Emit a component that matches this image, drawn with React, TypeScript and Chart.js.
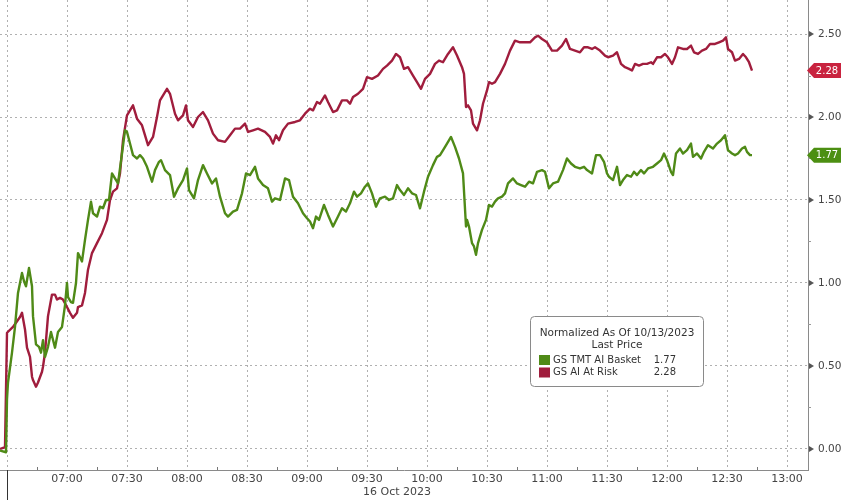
import React, { useEffect, useRef } from "react";
import { Chart, registerables } from "chart.js";

Chart.register(...registerables);

// ---------- data (minutes after 06:00, values normalized) ----------
const sessionDate = "16 Oct 2023";
const legendTitle = "Normalized As Of 10/13/2023";
const legendSubtitle = "Last Price";
const seriesNames = ["GS TMT AI Basket", "GS AI At Risk"];
const lastValues = [1.77, 2.28];
const sessionOpen = "06:30";
const xTickLabels = ["07:00", "07:30", "08:00", "08:30", "09:00", "09:30", "10:00", "10:30", "11:00", "11:30", "12:00", "12:30", "13:00"];
const yTickValues = [0, 0.5, 1, 1.5, 2, 2.5];

const basketMinutes = [
  26.5, 29.5, 30, 30.5, 32.5, 34, 35.5, 37.5, 38.5, 39.5, 41, 42.5, 43, 44.5, 46, 47, 48, 49, 50.5, 52,
  54, 55.5, 57.5, 59, 60, 60.5, 62, 63, 64.5, 65.5, 67.5, 69, 70.5, 72, 73, 75, 76.5, 78, 79.5, 81,
  82.5, 84, 85.5, 87.5, 89, 90, 91.5, 93, 95, 96.5, 98, 100, 102.5, 104, 106, 107, 109, 111.5, 113.5, 115.5,
  118, 120, 121, 123.5, 125.5, 128, 130, 132.5, 134.5, 136.5, 139, 140.5, 143, 145, 147.5, 149.5, 151.5, 154, 155.5, 158,
  160.5, 162.5, 164, 166.5, 169, 171, 173, 175.5, 178, 180, 181.5, 183, 184.5, 186, 188.5, 190.5, 193, 195.5, 197.5, 199.5,
  201.5, 203.5, 205, 207, 209, 210.5, 212.5, 214.5, 216.5, 219, 221, 223, 225, 226.5, 228.5, 230.5, 232.5, 234.5, 236.5, 238.5,
  240.5, 243, 245, 246.5, 248.5, 250, 252, 253, 254, 256, 258, 259.5, 260, 261, 262.5, 263.5, 264.5, 265.5, 267.5, 269.5,
  271, 272.5, 274, 275.5, 277.5, 279, 280.5, 283, 285, 287, 289, 291, 293, 295, 297.5, 299, 301, 303, 305.5, 308,
  310, 312, 314, 316.5, 318.5, 320, 322.5, 324.5, 326.5, 328.5, 330, 331, 333, 335, 336.5, 338, 340, 342, 343.5, 345,
  347, 348.5, 350.5, 353, 355, 357, 358.5, 360, 362, 363, 364.5, 366.5, 368, 370, 372, 373, 375, 377, 378.5, 380.5,
  383, 385, 387, 389, 390.5, 392.5, 394, 395.5, 397.5, 399, 400, 401.5, 402.5,
];
const basketValues = [
  -0.01, -0.02, 0.3, 0.4, 0.58, 0.735, 0.94, 1.06, 1.01, 0.98, 1.09, 0.98, 0.8, 0.63, 0.615, 0.58, 0.655, 0.555, 0.615, 0.705,
  0.61, 0.705, 0.735, 0.865, 1.0, 0.915, 0.885, 0.88, 1.0, 1.18, 1.13, 1.26, 1.38, 1.49, 1.42, 1.4, 1.46, 1.45, 1.5, 1.5,
  1.66, 1.63, 1.6, 1.78, 1.92, 1.91, 1.84, 1.77, 1.75, 1.77, 1.75, 1.7, 1.61, 1.68, 1.73, 1.74, 1.68, 1.65, 1.52, 1.57,
  1.62, 1.69, 1.56, 1.51, 1.62, 1.71, 1.66, 1.6, 1.63, 1.52, 1.42, 1.4, 1.43, 1.44, 1.54, 1.66, 1.65, 1.7, 1.63, 1.59,
  1.57, 1.49, 1.51, 1.5, 1.63, 1.62, 1.52, 1.48, 1.42, 1.39, 1.37, 1.33, 1.4, 1.38, 1.47, 1.41, 1.34, 1.4, 1.45, 1.43,
  1.48, 1.55, 1.52, 1.54, 1.58, 1.6, 1.54, 1.46, 1.51, 1.52, 1.5, 1.51, 1.59, 1.56, 1.53, 1.57, 1.54, 1.53, 1.45, 1.55,
  1.64, 1.71, 1.76, 1.77, 1.81, 1.84, 1.88, 1.85, 1.82, 1.75, 1.66, 1.34, 1.38, 1.34, 1.24, 1.22, 1.17, 1.24, 1.32, 1.38,
  1.47, 1.46, 1.49, 1.51, 1.52, 1.54, 1.6, 1.63, 1.6, 1.59, 1.58, 1.61, 1.6, 1.67, 1.68, 1.67, 1.57, 1.6, 1.61, 1.68,
  1.75, 1.72, 1.7, 1.69, 1.7, 1.68, 1.66, 1.77, 1.77, 1.73, 1.66, 1.64, 1.62, 1.7, 1.59, 1.62, 1.65, 1.64, 1.67, 1.65,
  1.68, 1.66, 1.69, 1.7, 1.72, 1.74, 1.78, 1.74, 1.67, 1.65, 1.78, 1.81, 1.78, 1.8, 1.84, 1.76, 1.78, 1.75, 1.79, 1.83,
  1.81, 1.84, 1.86, 1.89, 1.8, 1.78, 1.77, 1.78, 1.81, 1.82, 1.79, 1.77, 1.77,
];

const riskMinutes = [
  26.5, 29, 30, 33, 36.5, 37.5, 39, 40, 41.5, 42.5, 43, 44.5, 45.5, 47.5, 48, 49, 50.5, 52.5, 54, 55,
  56.5, 58, 60, 61.5, 63, 65, 65.5, 67.5, 69, 70.5, 72.5, 75, 77.5, 80, 81.5, 83, 85, 86.5, 88, 90,
  91.5, 93, 95, 97.5, 100.5, 103, 105, 106.5, 110, 111.5, 114, 115.5, 118, 119.5, 120.5, 123, 125.5, 128, 130.5, 133,
  135.5, 139, 141.5, 144, 146.5, 149, 150.5, 153, 155.5, 159, 161.5, 163, 164.5, 166, 168, 170.5, 174, 176.5, 179, 181.5,
  183, 185, 186.5, 189, 190.5, 193, 195, 197.5, 200, 201.5, 203, 205.5, 208, 210, 212.5, 215.5, 218, 220, 222.5, 224.5,
  226.5, 228.5, 230.5, 233, 235, 237, 239, 241.5, 244, 246, 248, 250.5, 253, 255, 257.5, 258.5, 259.5, 260.5, 262, 263,
  265, 266.5, 268, 270, 271, 272.5, 274, 276.5, 279, 281.5, 284, 286.5, 289, 291.5, 294, 295.5, 297.5, 300, 302.5, 305,
  307.5, 309.5, 311.5, 314, 316.5, 318.5, 320.5, 322.5, 324, 326.5, 329, 330.5, 333, 335, 337, 339, 341, 342.5, 344, 346,
  348, 350, 352, 353, 355, 357, 359, 360.5, 362.5, 364, 365.5, 368, 370, 372, 373.5, 375.5, 377.5, 379.5, 381.5, 384,
  386, 388, 389.5, 390.5, 392.5, 394, 396, 398, 399.5, 401, 402.5,
];
const riskValues = [
  0.0, 0.01, 0.7, 0.735, 0.795, 0.82, 0.72, 0.61, 0.555, 0.435, 0.415, 0.375, 0.4, 0.465, 0.495, 0.58, 0.8, 0.93, 0.93, 0.9,
  0.91, 0.9, 0.855, 0.82, 0.79, 0.82, 0.855, 0.865, 0.94, 1.08, 1.18, 1.24, 1.3, 1.38, 1.5, 1.55, 1.57, 1.66, 1.86, 2.01,
  2.04, 2.07, 1.99, 1.95, 1.83, 1.88, 2.0, 2.1, 2.17, 2.14, 2.02, 1.98, 2.01, 2.07, 1.98, 1.94, 2.0, 2.03, 1.98, 1.9,
  1.86, 1.85, 1.89, 1.93, 1.93, 1.96, 1.91, 1.92, 1.93, 1.91, 1.88, 1.84, 1.89, 1.86, 1.92, 1.96, 1.97, 1.98, 2.02, 2.05,
  2.04, 2.09, 2.08, 2.13, 2.09, 2.03, 2.04, 2.1, 2.1, 2.08, 2.12, 2.14, 2.17, 2.24, 2.23, 2.25, 2.29, 2.31, 2.34, 2.38,
  2.36, 2.29, 2.3, 2.25, 2.21, 2.17, 2.23, 2.26, 2.32, 2.34, 2.33, 2.38, 2.42, 2.37, 2.3, 2.26, 2.06, 2.07, 2.04, 1.96,
  1.92, 1.98, 2.08, 2.16, 2.21, 2.2, 2.21, 2.26, 2.32, 2.4, 2.46, 2.45, 2.45, 2.45, 2.48, 2.49, 2.47, 2.45, 2.4, 2.4,
  2.43, 2.47, 2.41, 2.4, 2.39, 2.42, 2.42, 2.41, 2.42, 2.4, 2.37, 2.36, 2.37, 2.39, 2.32, 2.3, 2.29, 2.28, 2.32, 2.31,
  2.32, 2.32, 2.33, 2.32, 2.36, 2.36, 2.38, 2.36, 2.32, 2.36, 2.42, 2.41, 2.41, 2.43, 2.39, 2.38, 2.4, 2.41, 2.44, 2.44,
  2.45, 2.46, 2.48, 2.41, 2.39, 2.34, 2.35, 2.38, 2.36, 2.33, 2.28,
];

// ---------- helpers ----------
const BASE = 360; // 06:00 in minutes after midnight
const parseClock = (s: string) => {
  const [h, m] = s.split(":").map(Number);
  return h * 60 + m;
};
const fmtClock = (v: number) => {
  const h = Math.floor(v / 60);
  const m = Math.round(v - h * 60);
  return `${String(h).padStart(2, "0")}:${String(m).padStart(2, "0")}`;
};

const GREEN = "#4f8a17";
const RED = "#a01d3d";
const FLAG_GREEN = "#4c8f12";
const FLAG_RED = "#c9233f";
const FONT = "'DejaVu Sans', Verdana, sans-serif";

export default function App() {
  const ref = useRef<HTMLCanvasElement | null>(null);

  useEffect(() => {
    if (!ref.current) return;
    const openMin = parseClock(sessionOpen);
    const xTicks = [openMin, ...xTickLabels.map(parseClock)];
    const colors = [GREEN, RED];
    const flagColors = [FLAG_GREEN, FLAG_RED];

    const overlay = {
      id: "overlay",
      afterDraw(chart: any) {
        const { ctx, chartArea, scales } = chart;
        const xs = scales.x;
        const ys = scales.y;
        const right = chartArea.right;
        const bottom = chartArea.bottom;
        ctx.save();

        // session-open separator below axis
        const xo = Math.round(xs.getPixelForValue(openMin)) + 0.5;
        ctx.strokeStyle = "#333";
        ctx.lineWidth = 1;
        ctx.beginPath();
        ctx.moveTo(xo, bottom);
        ctx.lineTo(xo, chart.height);
        ctx.stroke();

        // minor x ticks (quarter hours)
        ctx.strokeStyle = "#777";
        for (let v = openMin + 15; v < xs.max; v += 30) {
          const x = Math.round(xs.getPixelForValue(v)) + 0.5;
          ctx.beginPath();
          ctx.moveTo(x, bottom);
          ctx.lineTo(x, bottom - 3);
          ctx.stroke();
        }

        // y markers
        ctx.fillStyle = "#555";
        yTickValues.forEach((v) => {
          const y = ys.getPixelForValue(v);
          ctx.beginPath();
          ctx.moveTo(right + 1, y - 3);
          ctx.lineTo(right + 6, y);
          ctx.lineTo(right + 1, y + 3);
          ctx.closePath();
          ctx.fill();
        });
        ctx.strokeStyle = "#999";
        for (let v = 0.25; v < 2.7; v += 0.5) {
          const y = Math.round(ys.getPixelForValue(v)) + 0.5;
          ctx.beginPath();
          ctx.moveTo(right, y);
          ctx.lineTo(right + 3, y);
          ctx.stroke();
        }

        // last value flags
        lastValues.forEach((v, i) => {
          const y = ys.getPixelForValue(v);
          ctx.fillStyle = flagColors[i];
          ctx.beginPath();
          ctx.moveTo(right - 1, y);
          ctx.lineTo(right + 6, y - 7.5);
          ctx.lineTo(right + 33, y - 7.5);
          ctx.lineTo(right + 33, y + 7.5);
          ctx.lineTo(right + 6, y + 7.5);
          ctx.closePath();
          ctx.fill();
          ctx.fillStyle = "#fff";
          ctx.font = `10px ${FONT}`;
          ctx.textAlign = "center";
          ctx.textBaseline = "middle";
          ctx.fillText(v.toFixed(2), right + 19, y + 0.5);
        });

        // date label
        ctx.fillStyle = "#444";
        ctx.font = `11px ${FONT}`;
        ctx.textAlign = "center";
        ctx.textBaseline = "middle";
        ctx.fillText(sessionDate, 397, 492);

        // legend box
        const bx = 530.5, by = 316.5, bw = 173, bh = 70, r = 4;
        ctx.beginPath();
        ctx.moveTo(bx + r, by);
        ctx.lineTo(bx + bw - r, by);
        ctx.quadraticCurveTo(bx + bw, by, bx + bw, by + r);
        ctx.lineTo(bx + bw, by + bh - r);
        ctx.quadraticCurveTo(bx + bw, by + bh, bx + bw - r, by + bh);
        ctx.lineTo(bx + r, by + bh);
        ctx.quadraticCurveTo(bx, by + bh, bx, by + bh - r);
        ctx.lineTo(bx, by + r);
        ctx.quadraticCurveTo(bx, by, bx + r, by);
        ctx.closePath();
        ctx.fillStyle = "#fff";
        ctx.fill();
        ctx.strokeStyle = "#8a8a8a";
        ctx.stroke();

        ctx.fillStyle = "#333";
        ctx.font = `10.5px ${FONT}`;
        ctx.textAlign = "center";
        ctx.fillText(legendTitle, bx + bw / 2, 333);
        ctx.fillText(legendSubtitle, bx + bw / 2, 345.5);
        ctx.font = `10px ${FONT}`;
        seriesNames.forEach((name, i) => {
          const y = 360 + i * 12.5;
          ctx.fillStyle = colors[i];
          ctx.fillRect(539, y - 5, 11, 10);
          ctx.fillStyle = "#333";
          ctx.textAlign = "left";
          ctx.fillText(name, 553, y);
          ctx.textAlign = "right";
          ctx.fillText(lastValues[i].toFixed(2), 676, y);
        });

        ctx.restore();
      },
    };

    const chart = new Chart(ref.current, {
      type: "line",
      data: {
        datasets: [
          {
            label: seriesNames[0],
            data: basketMinutes.map((m, i) => ({ x: BASE + m, y: basketValues[i] })),
            borderColor: GREEN,
            borderWidth: 2.4,
            pointRadius: 0,
            tension: 0,
            borderJoinStyle: "round",
          },
          {
            label: seriesNames[1],
            data: riskMinutes.map((m, i) => ({ x: BASE + m, y: riskValues[i] })),
            borderColor: RED,
            borderWidth: 2.4,
            pointRadius: 0,
            tension: 0,
            borderJoinStyle: "round",
          },
        ],
      },
      options: {
        responsive: false,
        animation: false,
        events: [],
        layout: { padding: 0 },
        font: { family: FONT },
        plugins: { legend: { display: false }, tooltip: { enabled: false }, title: { display: false } },
        scales: {
          x: {
            type: "linear",
            min: 386.5,
            max: 790.5,
            afterBuildTicks: (s: any) => {
              s.ticks = xTicks.map((v) => ({ value: v }));
            },
            afterFit: (s: any) => {
              s.height = 30;
              s.paddingLeft = 0;
              s.paddingRight = 0;
              s.paddingTop = 0;
              s.paddingBottom = 0;
            },
            ticks: {
              autoSkip: false,
              maxRotation: 0,
              padding: 3,
              color: "#444",
              font: { family: FONT, size: 11 },
              callback: (v: any) => (v === openMin ? "" : fmtClock(Number(v))),
            },
            grid: { color: "#b0b0b0", drawTicks: false, lineWidth: 1 },
            border: { display: true, color: "#8a8a8a", dash: [2, 3] },
          },
          y: {
            type: "linear",
            position: "right",
            min: -0.127,
            max: 2.705,
            afterBuildTicks: (s: any) => {
              s.ticks = yTickValues.map((v) => ({ value: v }));
            },
            afterFit: (s: any) => {
              s.width = 40;
              s.paddingLeft = 0;
              s.paddingRight = 0;
              s.paddingTop = 0;
              s.paddingBottom = 0;
            },
            ticks: {
              padding: 10,
              color: "#444",
              font: { family: FONT, size: 10.5 },
              callback: (v: any) => Number(v).toFixed(2),
            },
            grid: { color: "#b0b0b0", drawTicks: false, lineWidth: 1 },
            border: { display: true, color: "#8a8a8a", dash: [2, 3] },
          },
        },
      },
      plugins: [overlay],
    } as any);

    return () => chart.destroy();
  }, []);

  return (
    <div style={{ position: "absolute", left: 0, top: 0, width: 848, height: 500, background: "#fff" }}>
      <canvas ref={ref} width={848} height={500} />
    </div>
  );
}
